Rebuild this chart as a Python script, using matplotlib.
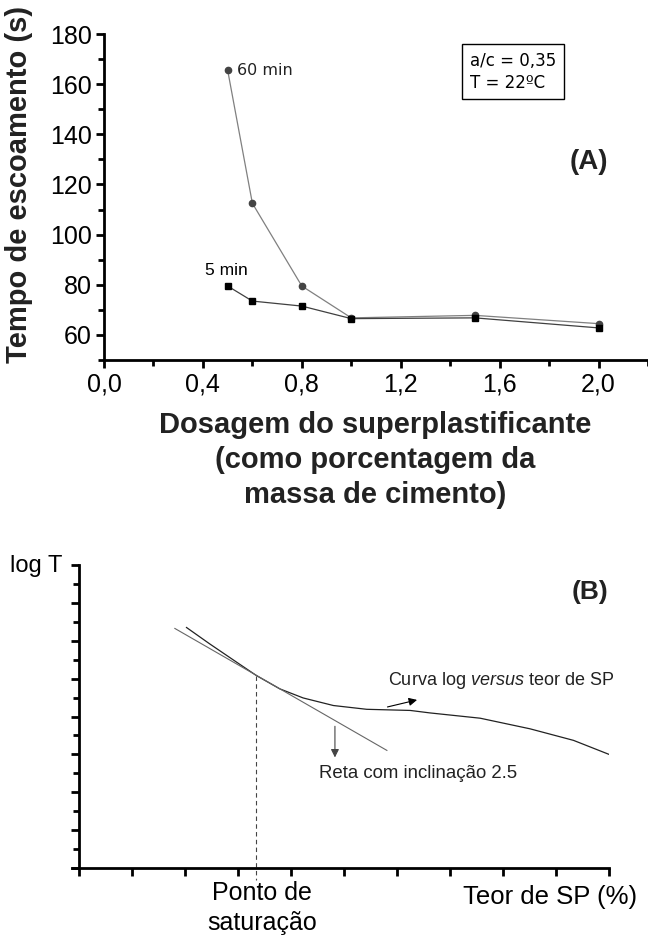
import numpy as np
import matplotlib.pyplot as plt
from matplotlib.ticker import MultipleLocator, FuncFormatter

plt.rcParams['font.family'] = ['Liberation Sans', 'DejaVu Sans']
plt.rcParams['mathtext.fontset'] = 'custom'
plt.rcParams['mathtext.rm'] = 'Liberation Sans'
plt.rcParams['mathtext.it'] = 'Liberation Sans:italic'

# data - panel (A)
dose = [0.5, 0.6, 0.8, 1.0, 1.5, 2.0]
t_60 = [165.6, 112.5, 79.5, 66.8, 67.8, 64.5]
t_5 = [79.5, 73.5, 71.5, 66.5, 66.8, 62.8]

# data - panel (B), schematic curve
sp_curve = [2.03, 2.47, 2.98, 3.35, 3.79, 4.23, 4.80, 5.43, 6.25, 6.62, 7.57, 8.51, 9.33, 10.0]
logt_curve = [12.70, 11.83, 10.86, 10.16, 9.46, 8.98, 8.58, 8.38, 8.32, 8.19, 7.91, 7.35, 6.74, 6.0]
sp_line = [1.81, 5.81]
logt_line = [12.65, 6.21]
sp_sat = 3.35
logt_sat = 10.16

fig = plt.figure(figsize=(6.48, 9.39), dpi=100)

# ---- (A)
ax = fig.add_axes([104/648, 1-360/939, 544/648, 326/939])
ax.plot(dose, t_60, '-', color='#808080', lw=0.9, marker='o', ms=4.5,
        mfc='#444444', mec='#444444', zorder=3)
ax.plot(dose, t_5, '-', color='#404040', lw=0.9, marker='s', ms=4,
        mfc='black', mec='black', zorder=3)
ax.set_xlim(0, 2.2)
ax.set_ylim(50, 180)
for s in ['top', 'right']:
    ax.spines[s].set_visible(False)
for s in ['left', 'bottom']:
    ax.spines[s].set_linewidth(2)
ax.xaxis.set_major_locator(MultipleLocator(0.4))
ax.xaxis.set_minor_locator(MultipleLocator(0.2))
ax.yaxis.set_minor_locator(MultipleLocator(10))
ax.set_yticks([60, 80, 100, 120, 140, 160, 180])
ax.xaxis.set_major_formatter(FuncFormatter(lambda v, p: ('%.1f' % v).replace('.', ',')))
ax.tick_params(which='major', length=6, width=2, labelsize=18, pad=3)
ax.tick_params(which='minor', length=4, width=2)
ax.set_ylabel('Tempo de escoamento (s)', fontsize=21, fontweight='bold', color='#222222')
ax.yaxis.set_label_coords(-0.13, 0.54)
ax.text(0.537, 165.6, '60 min', fontsize=11.5, family='DejaVu Sans', va='center', color='#222222')
ax.text(0.493, 85.5, '5 min', fontsize=12.5, ha='center', va='center')
ax.text(1.48, 165, 'a/c = 0,35\nT = 22ºC', fontsize=12, family='DejaVu Sans', va='center',
        linespacing=1.3,
        bbox=dict(boxstyle='square,pad=0.45', fc='white', ec='black', lw=1))
ax.text(1.96, 129, '(A)', fontsize=20, fontweight='bold', ha='center', va='center', color='#222222')

fig.text(375/648, 1-460/939, 'Dosagem do superplastificante\n(como porcentagem da\nmassa de cimento)',
         fontsize=21, fontweight='bold', ha='center', va='center', linespacing=1.3,
         color='#222222')

# ---- (B)
bx = fig.add_axes([72/648, 1-868/939, 537/648, 303/939])
bx.plot(sp_curve, logt_curve, '-', color='#222222', lw=0.9)
bx.plot(sp_line, logt_line, '-', color='#666666', lw=0.8)
bx.plot([sp_sat, sp_sat], [logt_sat, -0.65], '--', color='#444444', lw=0.8,
        dashes=(4, 3), clip_on=False)
bx.set_xlim(-0.13, 10)
bx.set_ylim(0, 16)
bx.spines['left'].set_position(('data', 0))
for s in ['top', 'right']:
    bx.spines[s].set_visible(False)
for s in ['left', 'bottom']:
    bx.spines[s].set_linewidth(2)
bx.set_xticks(np.arange(0, 11, 1))
bx.set_yticks(np.arange(0, 17, 2))
bx.set_yticks(np.arange(1, 16, 2), minor=True)
bx.set_xticklabels([])
bx.set_yticklabels([])
bx.tick_params(which='major', length=6, width=2)
bx.tick_params(which='minor', length=4, width=2)
bx.annotate('', xy=(6.43, 8.91), xytext=(5.77, 8.47),
            arrowprops=dict(arrowstyle='-|>', color='black', lw=0.8, mutation_scale=12))
bx.annotate('', xy=(4.83, 5.69), xytext=(4.83, 7.63),
            arrowprops=dict(arrowstyle='-|>', color='#444444', lw=0.8, mutation_scale=12))
bx.text(5.83, 9.89, 'Curva log $\\mathit{versus}$ teor de SP', fontsize=13, va='center', color='#222222')
bx.text(4.53, 5.0, 'Reta com inclinação 2.5', fontsize=13.4, va='center', color='#222222')
bx.text(9.64, 14.6, '(B)', fontsize=19, fontweight='bold', ha='center', va='center', color='#222222')

fig.text(62/648, 1-566/939, 'log T', fontsize=17, ha='right', va='center')
fig.text(262/648, 1-908/939, 'Ponto de\nsaturação', fontsize=18, ha='center', va='center',
         linespacing=1.35)
fig.text(550/648, 1-897/939, 'Teor de SP (%)', fontsize=18.5, ha='center', va='center')

fig.savefig('out.png', dpi=100)
